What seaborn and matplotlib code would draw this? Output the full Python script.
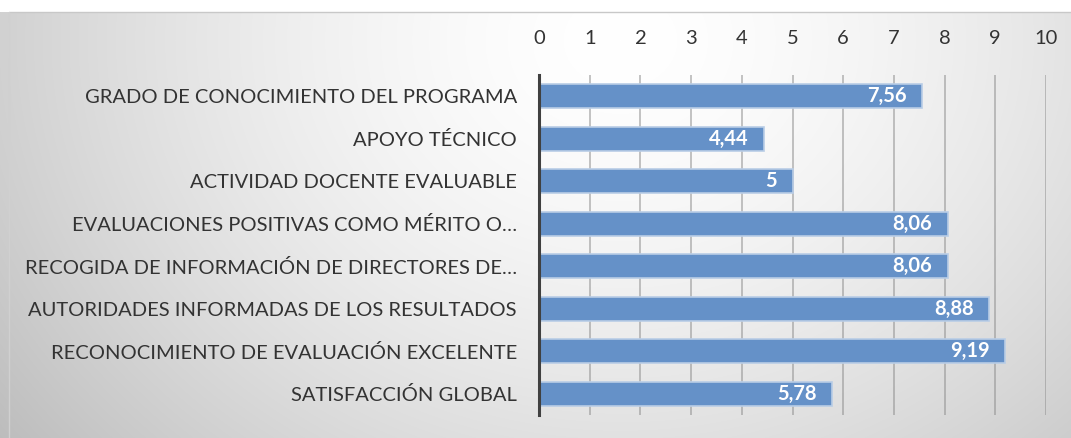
import numpy as np
import pandas as pd
import seaborn as sns
import matplotlib.pyplot as plt

categorias = [
    "GRADO DE CONOCIMIENTO DEL PROGRAMA",
    "APOYO TÉCNICO",
    "ACTIVIDAD DOCENTE EVALUABLE",
    "EVALUACIONES POSITIVAS COMO MÉRITO O…",
    "RECOGIDA DE INFORMACIÓN DE DIRECTORES DE…",
    "AUTORIDADES INFORMADAS DE LOS RESULTADOS",
    "RECONOCIMIENTO DE EVALUACIÓN EXCELENTE",
    "SATISFACCIÓN GLOBAL",
]
valores = [7.56, 4.44, 5, 8.06, 8.06, 8.88, 9.19, 5.78]
etiquetas = ["7,56", "4,44", "5", "8,06", "8,06", "8,88", "9,19", "5,78"]

df = pd.DataFrame({"categoria": categorias, "valor": valores})

sns.set_style("white")
plt.rcParams['font.family'] = ['Lato', 'DejaVu Sans']

fig = plt.figure(figsize=(10.71, 4.38), dpi=100)

# fondo con degradado radial
bg = fig.add_axes([0, 0, 1, 1], zorder=-10)
h, w = 438, 1071
yy, xx = np.mgrid[0:h, 0:w]
r = np.sqrt(((xx - 620) / 620.0) ** 2 + ((yy - 40) / 520.0) ** 2)
shade = 1.0 - 0.18 * np.clip(r, 0, 1.3) ** 1.6
shade[:12, :] = 1.0
img = np.dstack([shade, shade, shade])
bg.imshow(img, aspect="auto", extent=[0, 1, 0, 1], origin="upper")
bg.plot([0.008, 1], [1 - 12 / 438, 1 - 12 / 438], color="#c8c8c8", lw=1)
bg.plot([0.008, 0.008], [0, 1 - 12 / 438], color="#d0d0d0", lw=1)
bg.set_xlim(0, 1)
bg.set_ylim(0, 1)
bg.axis("off")

ax = fig.add_axes([539 / 1071, 23 / 438, (1046 - 539) / 1071, 340 / 438])
ax.patch.set_alpha(0)

sns.barplot(data=df, x="valor", y="categoria", orient="h", color="#6591c8",
            width=0.57, edgecolor="#b9cde6", linewidth=1.2, saturation=1, ax=ax)

for i, (v, t) in enumerate(zip(valores, etiquetas)):
    ax.text(v - 0.3, i, t, ha="right", va="center", color="white",
            fontsize=14.5, fontweight="bold")

ax.set_xlim(0, 10)
ax.set_xticks(range(0, 11))
ax.xaxis.tick_top()
ax.tick_params(axis="x", length=0, labelsize=14.5, pad=20, labelcolor="#333333")
ax.tick_params(axis="y", length=0, labelsize=14.5, pad=16, labelcolor="#333333")
ax.set_xlabel("")
ax.set_ylabel("")
ax.grid(axis="x", color="#8c8c8c", lw=1.2, alpha=0.6)
ax.set_axisbelow(True)
for s in ["top", "right", "bottom"]:
    ax.spines[s].set_visible(False)
ax.spines["left"].set_color("#404040")
ax.spines["left"].set_linewidth(2.2)

plt.savefig("out.png", dpi=100)
